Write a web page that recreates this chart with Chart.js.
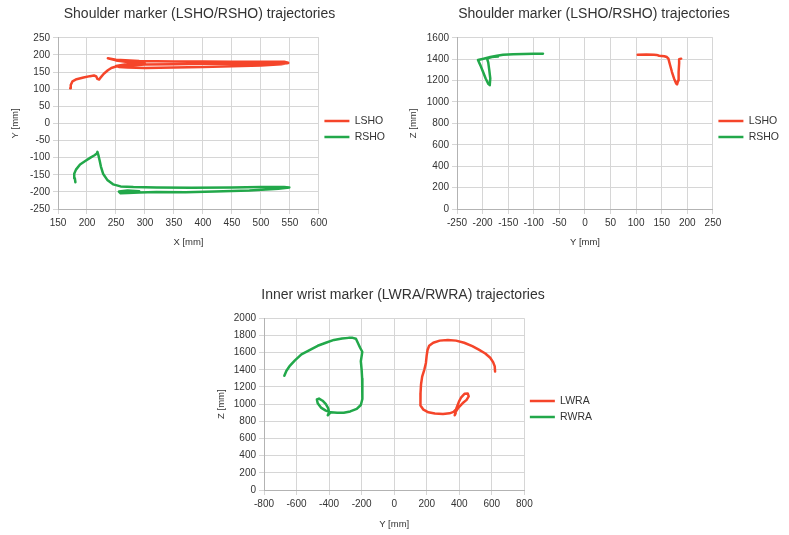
<!DOCTYPE html>
<html>
<head>
<meta charset="utf-8">
<script src="https://cdn.jsdelivr.net/npm/chart.js@4"></script>
<style>
  body { margin: 0; background: #fff; }
  canvas { position: absolute; }
</style>
</head>
<body>
<canvas id="c1" width="395" height="255" style="left:0;top:0"></canvas>
<canvas id="c2" width="394" height="255" style="left:395px;top:0"></canvas>
<canvas id="c3" width="402" height="255" style="left:200px;top:280px"></canvas>
<script>
// shoulder markers, X vs Y (top left)
const lshoX = [171,172,175,182,194,205,212,216,218,221,223,229,236,242,250,262,280,300,350,400,450,500,530,547,535,500,450,400,350,300,270,255,250,265,300,280,250,236,250,290,350,400,450,500,540,547];
const lshoY = [103,112,123,129,134,138,140,137,130,128,133,145,155,162,166,168,170,172,173,174,174,175,175,176,173,169,167,165,163,162,163,165,168,172,174,177,184,190,186,182,181,181,180,180,180,177];
const rshoX = [180,179,178,181,188,197,206,213,217,218,220,222,224,228,235,245,258,280,320,380,450,500,540,549,530,480,420,370,320,290,270,258,255,270,290,275,262];
const rshoY = [-172,-160,-147,-135,-120,-110,-100,-93,-88,-83,-95,-110,-126,-148,-165,-178,-184,-186,-187,-188,-187,-186,-186,-187,-191,-196,-199,-201,-200,-202,-203,-204,-199,-196,-198,-201,-204];

// shoulder markers, Y vs Z (top right)
const lshoY2 = [103,120,135,140,145,155,160,163,166,170,174,178,180,182,183,184,184,188];
const lshoZ = [1442,1443,1441,1440,1432,1428,1420,1405,1350,1280,1220,1175,1165,1200,1280,1360,1400,1405];
const rshoY2 = [-82,-100,-120,-140,-160,-172,-185,-198,-209,-204,-199,-194,-189,-186,-185,-187,-189,-191,-189,-182,-170];
const rshoZ = [1452,1451,1449,1446,1441,1432,1420,1405,1392,1340,1280,1220,1170,1158,1220,1300,1370,1400,1410,1420,1425];

// inner wrist markers, Y vs Z (bottom)
const lwraY = [620,618,608,590,560,520,480,430,380,330,280,240,215,205,200,195,185,172,165,162,160,163,180,210,250,300,340,365,380,388,398,412,432,452,458,445,420,395,378,372,378];
const lwraZ = [1380,1440,1490,1540,1590,1635,1675,1715,1740,1748,1740,1715,1680,1630,1570,1480,1400,1320,1230,1130,1040,985,935,905,890,885,893,910,940,980,1030,1080,1120,1125,1090,1050,1010,960,910,870,895];
const rwraY = [-675,-662,-640,-610,-570,-520,-470,-420,-370,-320,-280,-255,-235,-225,-210,-196,-200,-205,-200,-197,-196,-195,-205,-230,-270,-310,-350,-390,-420,-450,-470,-475,-462,-440,-420,-405,-400,-408,-395];
const rwraZ = [1330,1390,1450,1510,1580,1630,1680,1715,1748,1765,1772,1772,1762,1720,1660,1610,1560,1500,1400,1300,1200,1060,990,945,915,900,900,905,925,960,1010,1055,1065,1040,1000,950,905,870,895];

const RED = '#f5452a';
const GREEN = '#22a84a';
const FONT = "'Liberation Sans', Arial, sans-serif";

function pts(xs, ys) {
  return xs.map((x, i) => ({ x: x, y: ys[i] }));
}

function series(label, xs, ys, color) {
  return {
    label: label,
    data: pts(xs, ys),
    showLine: true,
    borderColor: color,
    backgroundColor: color,
    borderWidth: 2.5,
    pointRadius: 0,
    borderJoinStyle: 'round',
    borderCapStyle: 'round'
  };
}

function axis(min, max, step, title, titlePad, size, horizontal) {
  return {
    type: 'linear',
    min: min,
    max: max,
    ticks: {
      stepSize: step, color: '#333', padding: 3, maxRotation: 0, minRotation: 0, autoSkip: false,
      font: { family: FONT, size: 10 },
      callback: (v) => String(v)
    },
    grid: { color: '#d6d6d6', tickLength: 5 },
    border: { color: '#b3b3b3' },
    title: { display: true, text: title, color: '#333', padding: titlePad, font: { family: FONT, size: 9.5 } },
    afterFit: (s) => { if (horizontal) s.height = size; else s.width = size; }
  };
}

function makeChart(id, o) {
  return new Chart(document.getElementById(id), {
    type: 'scatter',
    data: { datasets: o.datasets },
    options: {
      responsive: false,
      animation: false,
      layout: { padding: { left: 4, right: 0, top: 0, bottom: 4 } },
      plugins: {
        title: {
          display: true, text: o.title, color: '#333',
          font: { family: FONT, size: 14, weight: 'normal' },
          padding: o.titlePad
        },
        legend: {
          position: 'right',
          title: { display: true, text: '', padding: 3, font: { size: 1, lineHeight: 1 } },
          labels: {
            usePointStyle: true, pointStyle: 'line', pointStyleWidth: 25,
            padding: 5.5, color: '#333', font: { family: FONT, size: 10.5 }
          }
        },
        tooltip: { enabled: false }
      },
      scales: {
        x: axis(o.x[0], o.x[1], o.x[2], o.xTitle, { top: 0, bottom: o.xTitlePad }, o.xH, true),
        y: axis(o.y[0], o.y[1], o.y[2], o.yTitle, { top: o.yTitlePad, bottom: 0 }, o.yW, false)
      }
    }
  });
}

makeChart('c1', {
  title: 'Shoulder marker (LSHO/RSHO) trajectories',
  titlePad: { top: 6, bottom: 15 },
  xTitle: 'X [mm]', yTitle: 'Y [mm]',
  x: [150, 600, 50], y: [-250, 250, 50],
  xH: 42, yW: 54, xTitlePad: 3, yTitlePad: 6,
  datasets: [series('LSHO', lshoX, lshoY, RED), series('RSHO', rshoX, rshoY, GREEN)]
});

makeChart('c2', {
  title: 'Shoulder marker (LSHO/RSHO) trajectories',
  titlePad: { top: 6, bottom: 15 },
  xTitle: 'Y [mm]', yTitle: 'Z [mm]',
  x: [-250, 250, 50], y: [0, 1600, 200],
  xH: 42, yW: 58, xTitlePad: 3, yTitlePad: 8.5,
  datasets: [series('LSHO', lshoY2, lshoZ, RED), series('RSHO', rshoY2, rshoZ, GREEN)]
});

makeChart('c3', {
  title: 'Inner wrist marker (LWRA/RWRA) trajectories',
  titlePad: { top: 7, bottom: 14.5 },
  xTitle: 'Y [mm]', yTitle: 'Z [mm]',
  x: [-800, 800, 200], y: [0, 2000, 200],
  xH: 41, yW: 60, xTitlePad: 1, yTitlePad: 12,
  datasets: [series('LWRA', lwraY, lwraZ, RED), series('RWRA', rwraY, rwraZ, GREEN)]
});
</script>
</body>
</html>
